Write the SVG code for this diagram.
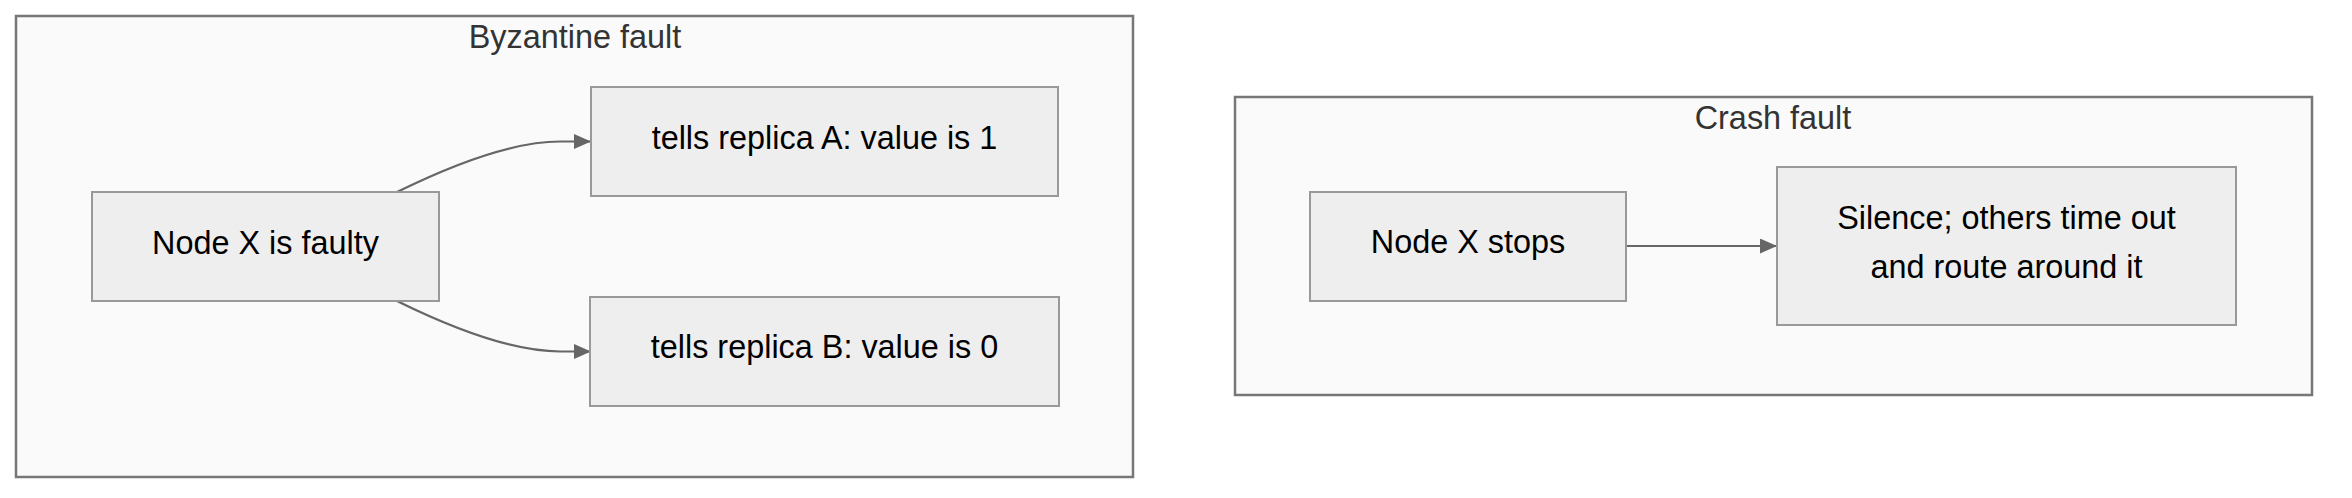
<svg xmlns="http://www.w3.org/2000/svg" width="2352" height="498" viewBox="0 0 2352 498">
<style>
.cluster{fill:#fafafa;stroke:#777777;stroke-width:2.5}
.ctitle{font-family:"Liberation Sans",Arial,sans-serif;font-size:32.4px;fill:#333333;text-anchor:middle}
.node rect{fill:#eeeeee;stroke:#999999;stroke-width:2}
.node text{font-family:"Liberation Sans",Arial,sans-serif;font-size:32.4px;fill:#000000;text-anchor:middle}
.edge{fill:none;stroke:#666666;stroke-width:2.2}
</style>
<defs>
<marker id="arrow" viewBox="0 0 17 15" refX="17" refY="7.5" markerWidth="17" markerHeight="15" markerUnits="userSpaceOnUse" orient="auto">
<path d="M0,0 L17,7.5 L0,15 Z" fill="#666666"/>
</marker>
</defs>
<rect width="2352" height="498" fill="#ffffff"/>
<g id="cluster-byzantine">
<rect class="cluster" x="16" y="16" width="1117" height="461"/>
<text class="ctitle" x="575" y="48">Byzantine fault</text>
</g>
<g id="cluster-crash">
<rect class="cluster" x="1235" y="97" width="1077" height="298"/>
<text class="ctitle" x="1773" y="129">Crash fault</text>
</g>
<g id="connectors">
<path class="edge" d="M397,192 C460,161 515,141.5 560,141.5 L591,141.5" marker-end="url(#arrow)"/>
<path class="edge" d="M397,301 C460,332 515,351.5 560,351.5 L591,351.5" marker-end="url(#arrow)"/>
<path class="edge" d="M1626,246 L1777,246" marker-end="url(#arrow)"/>
</g>
<g id="node-x-faulty" class="node">
<rect x="92" y="192" width="347" height="109"/>
<text x="265.5" y="254">Node X is faulty</text>
</g>
<g id="node-replica-a" class="node">
<rect x="591" y="87" width="467" height="109"/>
<text x="824.5" y="149">tells replica A: value is 1</text>
</g>
<g id="node-replica-b" class="node">
<rect x="590" y="297" width="469" height="109"/>
<text x="824.5" y="358">tells replica B: value is 0</text>
</g>
<g id="node-x-stops" class="node">
<rect x="1310" y="192" width="316" height="109"/>
<text x="1468" y="253">Node X stops</text>
</g>
<g id="node-silence" class="node">
<rect x="1777" y="167" width="459" height="158"/>
<text x="2006.5" y="229">Silence; others time out</text>
<text x="2006.5" y="278">and route around it</text>
</g>
</svg>
